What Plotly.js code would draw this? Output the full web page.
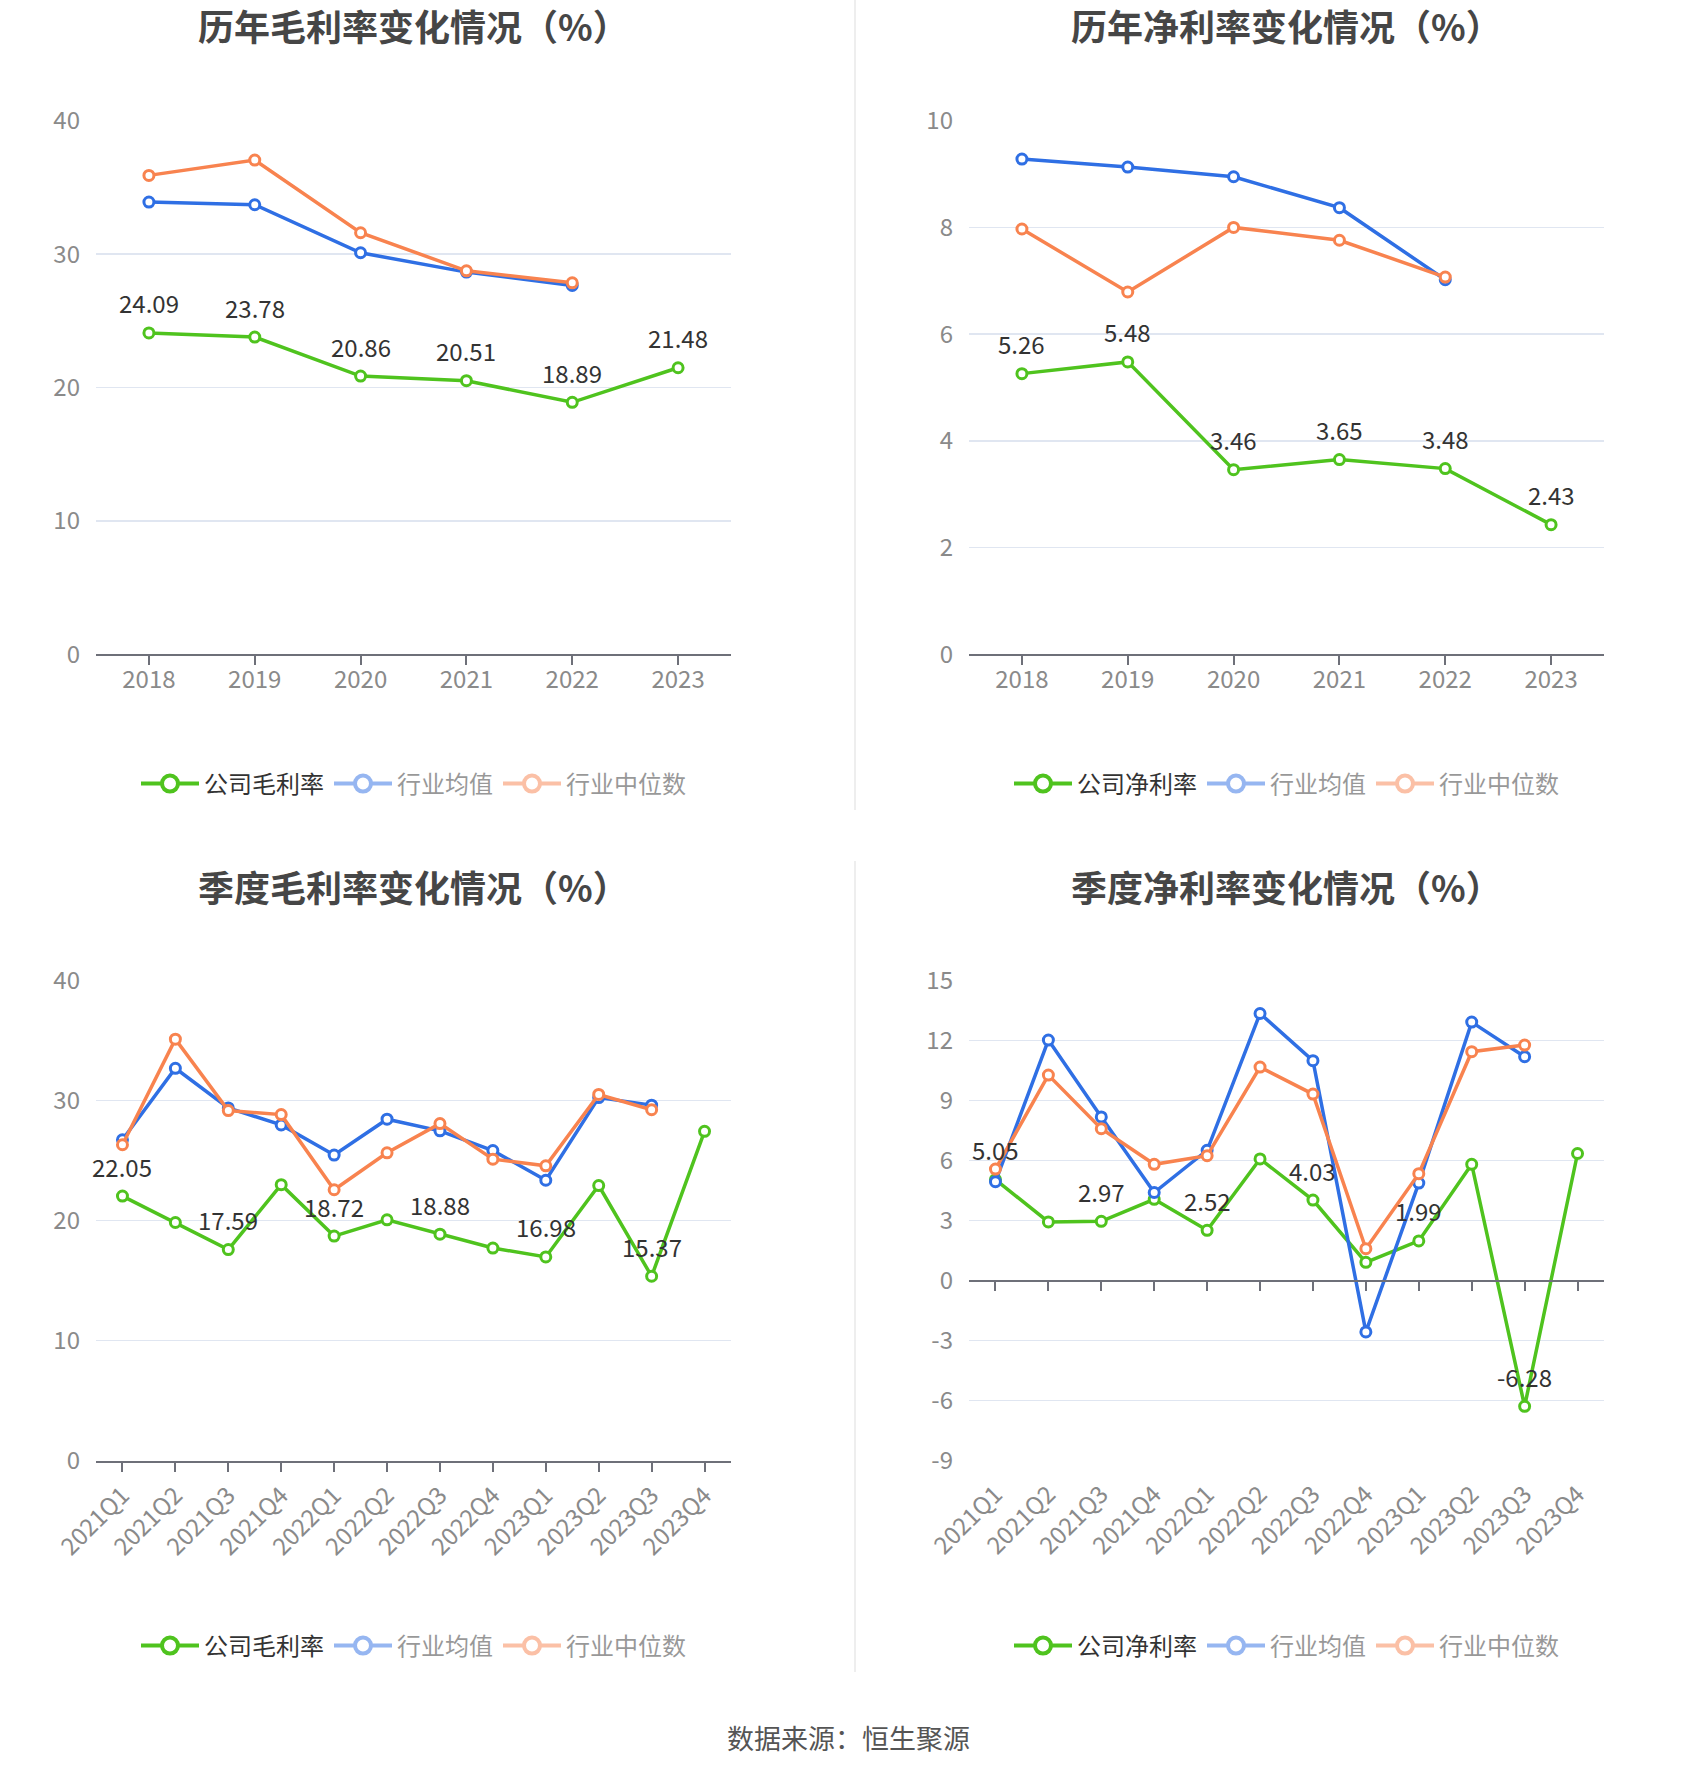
<!DOCTYPE html>
<html>
<head>
<meta charset="utf-8">
<script src="https://cdn.plot.ly/plotly-3.0.1.min.js"></script>
<style>
  html, body { margin: 0; padding: 0; background: #ffffff; }
  #chart { width: 1700px; height: 1782px; }
</style>
</head>
<body>
<div id="chart"></div>
<script>
// ---------- data ----------
const years = ['2018', '2019', '2020', '2021', '2022', '2023'];
const quarters = ['2021Q1', '2021Q2', '2021Q3', '2021Q4', '2022Q1', '2022Q2',
                  '2022Q3', '2022Q4', '2023Q1', '2023Q2', '2023Q3', '2023Q4'];

// 历年毛利率
const grossCompany = [24.09, 23.78, 20.86, 20.51, 18.89, 21.48];
const grossIndMean = [33.9, 33.7, 30.1, 28.65, 27.65];
const grossIndMedian = [35.9, 37.05, 31.6, 28.75, 27.85];

// 历年净利率
const netCompany = [5.26, 5.48, 3.46, 3.65, 3.48, 2.43];
const netIndMean = [9.28, 9.13, 8.95, 8.37, 7.02];
const netIndMedian = [7.97, 6.79, 8.0, 7.76, 7.07];

// 季度毛利率
const qGrossCompany = [22.05, 19.85, 17.59, 23.0, 18.72, 20.07, 18.88, 17.72, 16.98, 22.93, 15.37, 27.45];
const qGrossIndMean = [26.74, 32.7, 29.4, 27.98, 25.47, 28.46, 27.49, 25.84, 23.37, 30.26, 29.63];
const qGrossIndMedian = [26.33, 35.13, 29.18, 28.84, 22.58, 25.66, 28.09, 25.13, 24.57, 30.52, 29.25];

// 季度净利率
const qNetCompany = [5.05, 2.94, 2.97, 4.07, 2.52, 6.09, 4.03, 0.92, 1.99, 5.82, -6.28, 6.36];
const qNetIndMean = [4.95, 12.03, 8.19, 4.41, 6.52, 13.36, 11.0, -2.56, 4.88, 12.93, 11.2];
const qNetIndMedian = [5.58, 10.28, 7.6, 5.82, 6.25, 10.68, 9.33, 1.6, 5.35, 11.45, 11.78];

// tick values
const yTicksGross = [0, 10, 20, 30, 40];
const yTicksNet = [0, 2, 4, 6, 8, 10];
const yTicksQGross = [0, 10, 20, 30, 40];
const yTicksQNet = [-9, -6, -3, 0, 3, 6, 9, 12, 15];

const titles = ['历年毛利率变化情况（%）', '历年净利率变化情况（%）',
                '季度毛利率变化情况（%）', '季度净利率变化情况（%）'];
const seriesNames = ['公司毛利率', '公司净利率', '行业均值', '行业中位数'];
const sourceText = '数据来源：恒生聚源';

// ---------- styling ----------
const GREEN = '#4FC31E';
const BLUE = '#2F6FE4';
const ORANGE = '#F8834F';
const FONT = '"Noto Sans CJK SC", "Noto Sans", sans-serif';
const W = 1700, H = 1782;
const px = v => v / W;
const py = v => 1 - v / H;

function lineTrace(x, y, color, name, xa, ya, leg, extra) {
  return Object.assign({
    type: 'scatter', mode: 'lines+markers', x: x, y: y, name: name,
    xaxis: xa, yaxis: ya, legend: leg,
    line: { color: color, width: 3.5 },
    marker: { symbol: 'circle', size: 10, color: '#ffffff', line: { color: color, width: 3 } },
    cliponaxis: false, hoverinfo: 'skip'
  }, extra || {});
}
const legendMarker = (color) => ({ symbol: 'circle', size: 16, color: '#ffffff', line: { color: color, width: 4 } });

const labelAnnotations = [];
function panel(x, comp, mean, median, xa, ya, leg, compName, every) {
  comp.forEach((v, i) => {
    if (i % every === 0) {
      // x given as category index so numeric-looking categories ('2018') resolve correctly
      labelAnnotations.push({
        xref: xa, yref: ya, x: i, y: v, text: v.toFixed(2),
        showarrow: false, xanchor: 'center', yanchor: 'middle', yshift: 30,
        font: { size: 24, color: '#333333', family: FONT }
      });
    }
  });
  return [
    // legend entries (no marks drawn)
    lineTrace([x[0]], [null], GREEN, compName, xa, ya, leg, { marker: legendMarker(GREEN), line: { color: GREEN, width: 4 } }),
    lineTrace(x, mean, BLUE, seriesNames[2], xa, ya, leg, { visible: 'legendonly', marker: legendMarker(BLUE), line: { color: BLUE, width: 4 } }),
    lineTrace(x, median, ORANGE, seriesNames[3], xa, ya, leg, { visible: 'legendonly', marker: legendMarker(ORANGE), line: { color: ORANGE, width: 4 } }),
    // drawn series
    lineTrace(x, comp, GREEN, compName, xa, ya, leg, { showlegend: false }),
    lineTrace(x, mean, BLUE, seriesNames[2], xa, ya, leg, { showlegend: false }),
    lineTrace(x, median, ORANGE, seriesNames[3], xa, ya, leg, { showlegend: false })
  ];
}

const data = [].concat(
  panel(years, grossCompany, grossIndMean, grossIndMedian, 'x', 'y', 'legend', seriesNames[0], 1),
  panel(years, netCompany, netIndMean, netIndMedian, 'x2', 'y2', 'legend2', seriesNames[1], 1),
  panel(quarters, qGrossCompany, qGrossIndMean, qGrossIndMedian, 'x3', 'y3', 'legend3', seriesNames[0], 2),
  panel(quarters, qNetCompany, qNetIndMean, qNetIndMedian, 'x4', 'y4', 'legend4', seriesNames[1], 2)
);

// plot areas (pixels)
const LX = [96, 731], RX = [969, 1604];
const TY = [120.7, 654.3], BY = [980.7, 1460.7];
const dom = (a) => [px(a[0]), px(a[1])];
const domY = (a) => [py(a[1]), py(a[0])];

const tickFont = { size: 24, color: '#8a8a8a', family: FONT };
function xAxis(domain, anchor, cats, angle, extra) {
  return Object.assign({
    domain: domain, anchor: anchor, type: 'category',
    categoryorder: 'array', categoryarray: cats,
    range: [-0.5, cats.length - 0.5],
    showline: true, linecolor: '#6E7079', linewidth: 2,
    ticks: 'outside', ticklen: 9, tickwidth: 2, tickcolor: '#6E7079',
    showgrid: false, zeroline: false, tickfont: tickFont,
    tickangle: angle, fixedrange: true
  }, extra || {});
}
function yAxis(domain, anchor, tv, extra) {
  return Object.assign({
    domain: domain, anchor: anchor,
    range: [tv[0], tv[tv.length - 1]],
    tickvals: tv, ticktext: tv.map(v => String(v)),
    showgrid: true, gridcolor: '#E0E6F1', gridwidth: 1.5,
    zeroline: false, showline: false, ticks: '',
    tickfont: tickFont, ticklabelstandoff: 15, fixedrange: true
  }, extra || {});
}

const zeroPos = py(BY[1] - (0 - yTicksQNet[0]) / (yTicksQNet[yTicksQNet.length - 1] - yTicksQNet[0]) * (BY[1] - BY[0]));

function legendCfg(xc, yc) {
  return {
    orientation: 'h', x: xc, xanchor: 'center', y: yc, yanchor: 'middle',
    font: { size: 24, color: '#333333', family: FONT },
    itemwidth: 58,
    bgcolor: 'rgba(0,0,0,0)', itemclick: false, itemdoubleclick: false
  };
}

const titleFont = { size: 36, color: '#464646', family: FONT, weight: 'bold' };
const annotations = [
  { text: '<b>' + titles[0] + '</b>', x: px((LX[0] + LX[1]) / 2), y: py(25) },
  { text: '<b>' + titles[1] + '</b>', x: px((RX[0] + RX[1]) / 2), y: py(25) },
  { text: '<b>' + titles[2] + '</b>', x: px((LX[0] + LX[1]) / 2), y: py(886) },
  { text: '<b>' + titles[3] + '</b>', x: px((RX[0] + RX[1]) / 2), y: py(886) }
].map(a => Object.assign(a, { xref: 'paper', yref: 'paper', xanchor: 'center', yanchor: 'middle', showarrow: false, font: titleFont }));
annotations.push({
  text: sourceText, x: px(848), y: py(1737), xref: 'paper', yref: 'paper',
  xanchor: 'center', yanchor: 'middle', showarrow: false,
  font: { size: 27, color: '#555555', family: FONT }
});

const layout = {
  width: W, height: H,
  margin: { l: 0, r: 0, t: 0, b: 0, pad: 0 },
  paper_bgcolor: '#ffffff', plot_bgcolor: '#ffffff',
  font: { family: FONT },
  showlegend: true,
  xaxis: xAxis(dom(LX), 'y', years, 0, { ticklabelstandoff: -6 }),
  yaxis: yAxis(domY(TY), 'x', yTicksGross),
  xaxis2: xAxis(dom(RX), 'y2', years, 0, { ticklabelstandoff: -6 }),
  yaxis2: yAxis(domY(TY), 'x2', yTicksNet),
  xaxis3: xAxis(dom(LX), 'y3', quarters, -45),
  yaxis3: yAxis(domY(BY), 'x3', yTicksQGross),
  xaxis4: xAxis(dom(RX), 'free', quarters, -45, { position: zeroPos, ticklabelstandoff: 180 }),
  yaxis4: yAxis(domY(BY), 'x4', yTicksQNet),
  legend: legendCfg(px((LX[0] + LX[1]) / 2), py(784)),
  legend2: legendCfg(px((RX[0] + RX[1]) / 2), py(784)),
  legend3: legendCfg(px((LX[0] + LX[1]) / 2), py(1646)),
  legend4: legendCfg(px((RX[0] + RX[1]) / 2), py(1646)),
  annotations: annotations.concat(labelAnnotations),
  shapes: [
    { type: 'line', xref: 'paper', yref: 'paper', x0: px(855), x1: px(855), y0: py(0), y1: py(810), line: { color: '#EEEEEE', width: 2 } },
    { type: 'line', xref: 'paper', yref: 'paper', x0: px(855), x1: px(855), y0: py(861), y1: py(1672), line: { color: '#EEEEEE', width: 2 } }
  ]
};

Plotly.newPlot('chart', data, layout, { staticPlot: true, displayModeBar: false });
</script>
</body>
</html>
